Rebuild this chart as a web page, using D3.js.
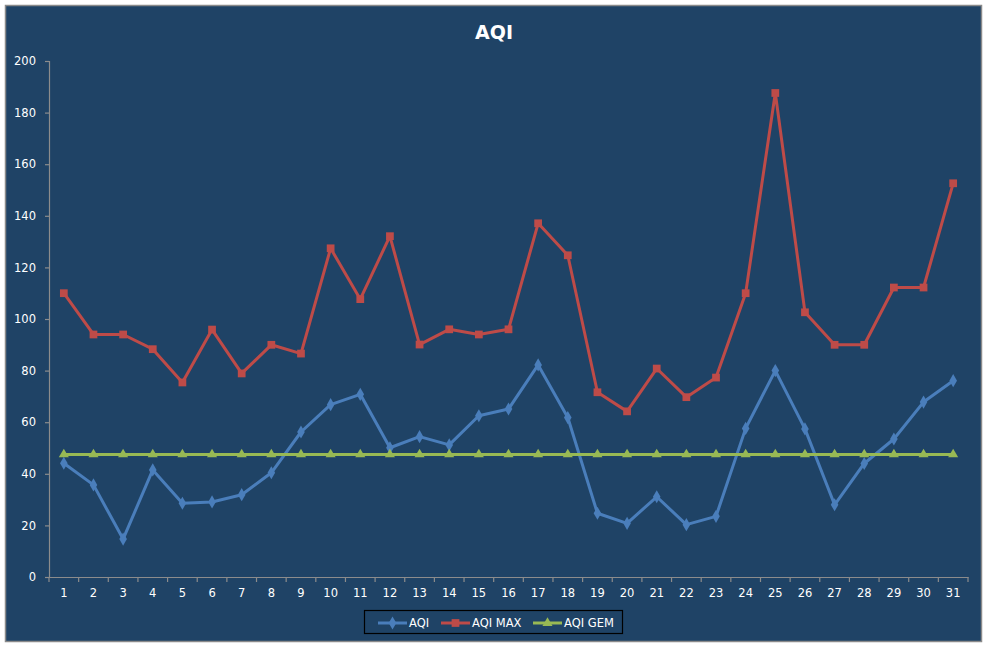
<!DOCTYPE html>
<html>
<head>
<meta charset="utf-8">
<script src="https://cdn.jsdelivr.net/npm/d3@7"></script>
<style>
  body { margin: 0; background: #fff; }
  svg { display: block; font-family: "DejaVu Sans", sans-serif; }
</style>
</head>
<body>
<svg id="chart"></svg>
<script>
var days = d3.range(1, 32).map(String);
var aqi = [44.1, 35.7, 14.7, 41.5, 28.6, 29.1, 31.9, 40.4, 56.2, 66.8, 70.8, 50.1, 54.4, 51.2, 62.5, 65.1,
           82.2, 61.8, 24.7, 20.8, 31.1, 20.3, 23.5, 57.6, 80.0, 57.4, 28.0, 44.0, 53.5, 67.8, 76.1];
var aqiMax = [110, 94, 94, 88.3, 75.4, 95.9, 78.9, 90, 86.6, 127.4, 107.7, 132.1, 90.1, 96, 94, 96,
              137.1, 124.7, 71.6, 64.2, 80.8, 69.7, 77.3, 110, 187.6, 102.6, 90, 90, 112.2, 112.2, 152.6];
var aqiGem = [47.5, 47.5, 47.5, 47.5, 47.5, 47.5, 47.5, 47.5, 47.5, 47.5, 47.5, 47.5, 47.5, 47.5, 47.5, 47.5,
              47.5, 47.5, 47.5, 47.5, 47.5, 47.5, 47.5, 47.5, 47.5, 47.5, 47.5, 47.5, 47.5, 47.5, 47.5];
var yTicks = [0, 20, 40, 60, 80, 100, 120, 140, 160, 180, 200];

var W = 987, H = 648;
var svg = d3.select("#chart").attr("width", W).attr("height", H);

// chart area
svg.append("rect")
  .attr("x", 5.5).attr("y", 5.5)
  .attr("width", 976).attr("height", 636)
  .attr("fill", "#1f4366")
  .attr("stroke", "#8a8a8a")
  .attr("stroke-width", 1.5);

var x = d3.scaleBand().domain(days).range([49, 968]);
var y = d3.scaleLinear().domain([0, 200]).range([577, 61]);
var cx = function(d, i) { return x(days[i]) + x.bandwidth() / 2; };

svg.append("text")
  .attr("x", 494).attr("y", 39)
  .attr("text-anchor", "middle")
  .attr("fill", "#fff")
  .attr("font-size", 19).attr("font-weight", "bold")
  .text("AQI");

// y axis
var gy = svg.append("g")
  .attr("transform", "translate(49,0)")
  .call(d3.axisLeft(y).tickValues(yTicks).tickSize(4).tickPadding(9));
gy.selectAll("text").attr("fill", "#fff").attr("font-size", 11.5)
  .attr("font-family", "DejaVu Sans");

// x axis, ticks between categories
var gx = svg.append("g")
  .attr("transform", "translate(0,577)")
  .call(d3.axisBottom(x).tickSize(0).tickPadding(12));
gx.selectAll("text").attr("fill", "#fff").attr("font-size", 11.5)
  .attr("font-family", "DejaVu Sans");
gx.selectAll(".bound")
  .data(days.concat(["end"]))
  .enter().append("line")
  .attr("class", "bound")
  .attr("x1", function(d, i) { return x.range()[0] + i * x.step(); })
  .attr("x2", function(d, i) { return x.range()[0] + i * x.step(); })
  .attr("y1", 0).attr("y2", 5);

svg.selectAll(".domain, .tick line, .bound")
  .attr("stroke", "#8c8c8c").attr("stroke-width", 1.2);

var line = d3.line().x(cx).y(function(d) { return y(d); });

var series = [
  { name: "AQI", values: aqi, color: "#4a7ebb", symbol: d3.symbolDiamond, size: 50 },
  { name: "AQI MAX", values: aqiMax, color: "#be4b48", symbol: d3.symbolSquare, size: 60 },
  { name: "AQI GEM", values: aqiGem, color: "#98b954", symbol: d3.symbolTriangle, size: 44 }
];

series.forEach(function(s) {
  svg.append("path")
    .datum(s.values)
    .attr("fill", "none")
    .attr("stroke", s.color)
    .attr("stroke-width", 3)
    .attr("stroke-linejoin", "round")
    .attr("d", line);
  svg.append("g").selectAll("path")
    .data(s.values)
    .enter().append("path")
    .attr("transform", function(d, i) { return "translate(" + cx(d, i) + "," + y(d) + ")"; })
    .attr("d", d3.symbol().type(s.symbol).size(s.size))
    .attr("fill", s.color);
});

// legend
var lg = svg.append("g");
lg.append("rect")
  .attr("x", 364.5).attr("y", 610.5)
  .attr("width", 258).attr("height", 23)
  .attr("fill", "none").attr("stroke", "#000").attr("stroke-width", 1.2);

var legendX = [378, 441, 533];
series.forEach(function(s, i) {
  var g = lg.append("g").attr("transform", "translate(" + legendX[i] + ",623)");
  g.append("line").attr("x1", 0).attr("x2", 29)
    .attr("stroke", s.color).attr("stroke-width", 3);
  g.append("path").attr("transform", "translate(14.5,0)")
    .attr("d", d3.symbol().type(s.symbol).size(s.size))
    .attr("fill", s.color);
  g.append("text").attr("x", 31).attr("y", 4)
    .attr("fill", "#fff").attr("font-size", 11.5)
    .text(s.name);
});
</script>
</body>
</html>
